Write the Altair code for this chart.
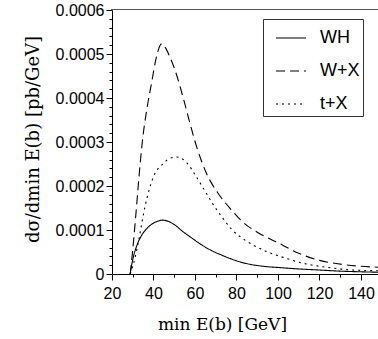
import altair as alt
import pandas as pd

# ---- data (y values in units of 1e-4 pb/GeV) ----
series_names = ["WH", "W+X", "t+X"]

wh_x = [28.7, 30.3, 32.0, 34.3, 36.5, 39.1, 41.5, 44.3, 47.0, 50.4, 54.0, 58.4,
        62.0, 65.0, 68.5, 72.8, 77.0, 80.0, 86.5, 92.0, 101.0, 110.0, 120.0,
        130.0, 140.0, 148.2]
wh_y = [0.0, 0.39, 0.65, 0.88, 1.02, 1.13, 1.19, 1.225, 1.20, 1.11, 0.97, 0.82,
        0.70, 0.61, 0.52, 0.43, 0.35, 0.30, 0.22, 0.18, 0.145, 0.115, 0.09,
        0.065, 0.05, 0.04]

wx_x = [28.8, 30.0, 31.5, 33.0, 34.6, 36.7, 39.1, 41.5, 43.9, 45.5, 48.0, 50.4,
        54.4, 57.6, 60.8, 65.6, 71.2, 77.7, 83.3, 90.0, 100.0, 110.0, 120.0,
        130.0, 140.0, 148.2]
wx_y = [0.0, 0.55, 1.35, 2.2, 3.0, 3.72, 4.35, 4.95, 5.23, 5.16, 4.92, 4.63,
        3.99, 3.42, 2.89, 2.28, 1.83, 1.45, 1.17, 0.95, 0.71, 0.47, 0.31,
        0.225, 0.175, 0.155]

tx_x = [28.8, 31.0, 33.0, 35.9, 39.9, 44.7, 48.0, 51.2, 56.0, 60.0, 64.0, 68.5,
        74.5, 77.6, 84.1, 92.9, 102.5, 112.2, 123.5, 134.7, 145.9, 148.2]
tx_y = [0.0, 0.35, 0.8, 1.53, 2.2, 2.51, 2.63, 2.66, 2.53, 2.26, 1.95, 1.6,
        1.2, 1.02, 0.77, 0.544, 0.378, 0.243, 0.152, 0.095, 0.075, 0.072]

x_tick_values = [20, 30, 40, 50, 60, 70, 80, 90, 100, 110, 120, 130, 140]
y_tick_values = [0.0, 0.00002, 0.00004, 0.00006, 0.00008, 0.0001, 0.00012,
                 0.00014, 0.00016, 0.00018, 0.0002, 0.00022, 0.00024, 0.00026,
                 0.00028, 0.0003, 0.00032, 0.00034, 0.00036, 0.00038, 0.0004,
                 0.00042, 0.00044, 0.00046, 0.00048, 0.0005, 0.00052, 0.00054,
                 0.00056, 0.00058, 0.0006]

rows = []
for name, xs, ys in [("WH", wh_x, wh_y), ("W+X", wx_x, wx_y), ("t+X", tx_x, tx_y)]:
    for i, (a, b) in enumerate(zip(xs, ys)):
        rows.append({"E": a, "v": b * 1e-4, "series": name, "order": i})
df = pd.DataFrame(rows)

W, H = 266, 264
SANS = "Liberation Sans"
SERIF = "DejaVu Serif"

x_axis = alt.Axis(
    values=x_tick_values,
    labelExpr="datum.value % 20 == 0 ? datum.label : ''",
    tickSize={"condition": {"test": "datum.value % 20 == 0", "value": 6}, "value": 3},
    title="min E(b) [GeV]",
    titleFont=SERIF, titleFontSize=17, titleFontWeight="normal", titleColor="black",
    titleX=110, titleY=55, titleAlign="center", titleBaseline="alphabetic",
    labelFont=SANS, labelFontSize=16, labelColor="black", labelPadding=5,
    labelFlush=False, labelOverlap=False,
    domainColor="black", tickColor="black", grid=False,
)

y_axis = alt.Axis(
    values=y_tick_values,
    labelExpr="round(datum.value*1e5) % 10 == 0 ? (datum.value == 0 ? '0' : format(datum.value, '.4f')) : ''",
    tickSize={"condition": {"test": "round(datum.value*1e5) % 10 == 0", "value": 6}, "value": 3},
    title="dσ/dmin E(b) [pb/GeV]",
    titleFont=SERIF, titleFontSize=18, titleFontWeight="normal", titleColor="black",
    titleX=-79, titleY=129, titleAngle=-90, titleAlign="center", titleBaseline="middle",
    labelFont=SANS, labelFontSize=16, labelColor="black", labelPadding=2,
    labelFlush=False, labelOverlap=False,
    domainColor="black", tickColor="black", grid=False,
)

lines = alt.Chart(df).mark_line(color="black", strokeWidth=1.1, clip=True,
                                interpolate="monotone").encode(
    x=alt.X("E:Q", scale=alt.Scale(domain=[20, 148.2], nice=False, zero=False), axis=x_axis),
    y=alt.Y("v:Q", scale=alt.Scale(domain=[0, 0.0006], nice=False), axis=y_axis),
    order="order:Q",
    strokeDash=alt.StrokeDash(
        "series:N",
        scale=alt.Scale(domain=series_names, range=[[1, 0], [9, 5], [2, 4]]),
        legend=alt.Legend(
            title=None, orient="none", legendX=151, legendY=9,
            symbolType="stroke", symbolSize=900, symbolStrokeWidth=1.1,
            symbolStrokeColor="black", symbolOffset=9,
            labelFont=SANS, labelFontSize=18, labelColor="black", labelOffset=13,
            strokeColor="#333333", fillColor="white", padding=3, rowPadding=8,
        ),
    ),
)

top_border = alt.Chart(df).mark_rule(color="#555555", strokeWidth=1).encode(
    x=alt.value(-0.5), x2=alt.value(W), y=alt.value(-0.5)
)

chart = alt.layer(lines, top_border).properties(
    width=W, height=H,
    autosize=alt.AutoSizeParams(type="none"),
    padding={"left": 112, "top": 10, "right": 0, "bottom": 65},
    background="white",
).configure_view(stroke=None)

chart.save("out.html", embed_options={"renderer": "svg", "actions": False})
